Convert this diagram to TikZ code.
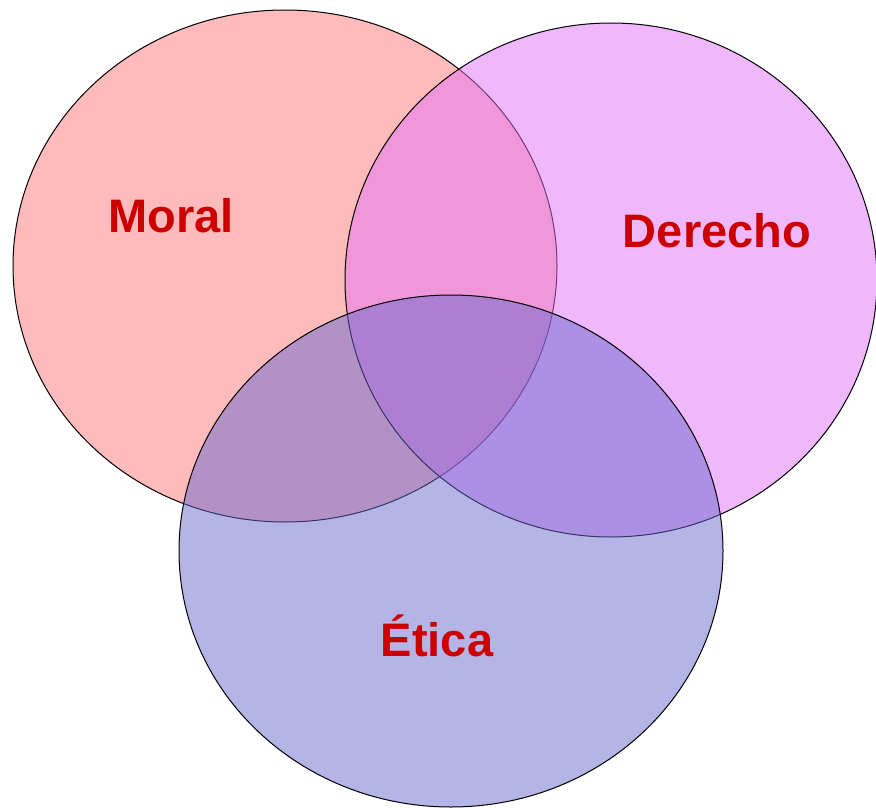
\documentclass[tikz,border=0pt]{standalone}
\usepackage{fontspec}
\setmainfont{Liberation Sans}
\usepackage{tikz}
\usetikzlibrary{positioning}

\definecolor{moralfill}{HTML}{FF7777}
\definecolor{derechofill}{HTML}{E271F9}
\definecolor{eticafill}{HTML}{6969CD}
\definecolor{labelred}{HTML}{CC0000}

\tikzset{
  setbox/.style={draw=black,line width=1pt,fill opacity=0.5},
  setlabel/.style={text=labelred,font=\fontsize{47}{50}\selectfont\bfseries}
}

\begin{document}
\begin{tikzpicture}[x=1pt,y=-1pt]
    \useasboundingbox (0,0) rectangle (876,808);
    % Venn diagram
    \draw[setbox,fill=moralfill] (285,266) ellipse [x radius=272,y radius=256];
    \draw[setbox,fill=derechofill] (611,280) ellipse [x radius=266,y radius=257];
    \draw[setbox,fill=eticafill] (451,551) ellipse [x radius=272,y radius=256];

    \node[setlabel] (moral) at (171,216) {Moral};
    \node[setlabel] (derecho) at (717,231) {Derecho};
    \node[setlabel] (etica) at (437,636) {Ética};
\end{tikzpicture}
\end{document}
